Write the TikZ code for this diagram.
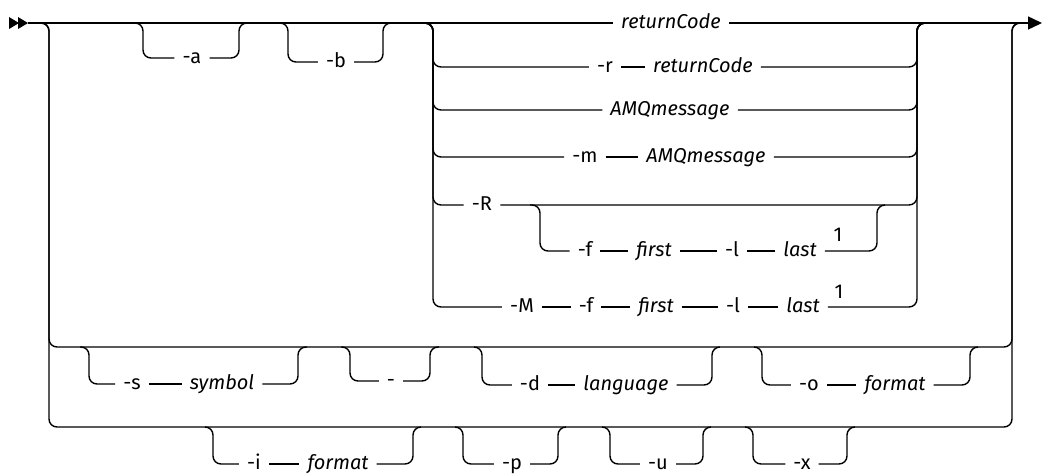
\documentclass[tikz,border=0pt]{standalone}
\usepackage{fontspec}
\setmainfont{Fira Sans}
\usetikzlibrary{arrows.meta}
\tikzset{
  rail/.style={line width=1.4pt, rounded corners=8pt},
  kw/.style={font=\fontsize{20}{23}\selectfont, inner xsep=8pt, inner ysep=0pt,
    text height=15.5pt, text depth=5pt},
  var/.style={kw, font=\fontsize{20}{23}\selectfont\itshape},
  fnote/.style={font=\fontsize{20}{22}\selectfont, inner sep=0pt},
}

\begin{document}
\begin{tikzpicture}[x=1pt, y=-1pt]
  \useasboundingbox (0,0) rectangle (1042,474);

  % start marker and main line
  \fill (9,17) -- (19,23) -- (9,29) -- cycle;
  \fill (18,17) -- (28,23) -- (18,29) -- cycle;
  \coordinate (start) at (28,23);
  \coordinate (stop) at (1042,23);
  \node[var] (rc) at (671,23) {returnCode};
  \draw[rail] (start) -- (rc.west);
  \draw[rail,-{Triangle[length=14pt,width=13pt]}] (rc.east) -- (stop);

  % -a and -b
  \coordinate (aIn) at (135,23);  \coordinate (aOut) at (247,23);
  \coordinate (bIn) at (280,23);  \coordinate (bOut) at (391,23);
  \node[kw] (opta) at (192,58) {-a};
  \node[kw] (optb) at (336,62) {-b};
  \draw[rail] (aIn) -- ++(8,0) |- (opta.west);
  \draw[rail] (aOut) -- ++(-8,0) |- (opta.east);
  \draw[rail] (bIn) -- ++(8,0) |- (optb.west);
  \draw[rail] (bOut) -- ++(-8,0) |- (optb.east);

  % choice block
  \coordinate (chIn) at (425,23);  \coordinate (chOut) at (925,23);
  \node[kw] (optr) at (605,67) {-r};
  \node[var] (rc2) at (703,67) {returnCode};
  \node[var] (amq) at (670,110) {AMQmessage};
  \node[kw] (optm) at (585,157) {-m};
  \node[var] (amq2) at (706,157) {AMQmessage};
  \node[kw] (optR) at (482,205) {-R};
  \node[kw] (optM) at (522,307) {-M};
  \node[kw] (f2) at (586,307) {-f};
  \node[var] (first2) at (656,307) {first};
  \node[kw] (l2) at (733,307) {-l};
  \node[var] (last2) at (803,307) {last};
  \node[fnote] (fnB) at (839,292) {1};
  \foreach \b in {optr,amq,optm,optR,optM}
    \draw[rail] (chIn) -- ++(8,0) |- (\b.west);
  \foreach \b in {rc2,amq,amq2,optR,last2}
    \draw[rail] (chOut) -- ++(-8,0) |- (\b.east);
  \draw[rail] (optr) -- (rc2);
  \draw[rail] (optm) -- (amq2);
  \draw[rail] (optM) -- (f2);
  \draw[rail] (f2) -- (first2);
  \draw[rail] (first2) -- (l2);
  \draw[rail] (l2) -- (last2);

  % -R with -f first -l last
  \coordinate (fIn) at (530,205);  \coordinate (fOut) at (885,205);
  \node[kw] (f1) at (585,251) {-f};
  \node[var] (first1) at (654,251) {first};
  \node[kw] (l1) at (732,251) {-l};
  \node[var] (last1) at (800,251) {last};
  \node[fnote] (fnA) at (838,235) {1};
  \draw[rail] (fIn) -- ++(10,0) |- (f1.west);
  \draw[rail] (fOut) -- ++(-8,0) |- (last1.east);
  \draw[rail] (f1) -- (first1);
  \draw[rail] (first1) -- (l1);
  \draw[rail] (l1) -- (last1);

  % second and third rows
  \coordinate (rowIn) at (41,23);  \coordinate (rowOut) at (1020,23);
  \coordinate (sL) at (49,347);  \coordinate (sR) at (1012,347);
  \coordinate (iL) at (49,427);  \coordinate (iR) at (1012,427);
  \draw[rail] (rowIn) -| (sL) -- (sR) |- (rowOut);
  \draw[rail] (rowIn) -| (iL) -- (iR) |- (rowOut);

  \coordinate (sIn) at (80,347);   \coordinate (sOut) at (307,347);
  \coordinate (hIn) at (341,347);  \coordinate (hOut) at (439,347);
  \coordinate (dIn) at (474,347);  \coordinate (dOut) at (720,347);
  \coordinate (oIn) at (754,347);  \coordinate (oOut) at (978,347);
  \node[kw] (opts) at (132,384) {-s};
  \node[var] (sym) at (222,384) {symbol};
  \node[kw] (opth) at (391,381) {-};
  \node[kw] (optd) at (530,385) {-d};
  \node[var] (lang) at (626,385) {language};
  \node[kw] (opto) at (809,385) {-o};
  \node[var] (fmt) at (895,385) {format};
  \draw[rail] (sIn) -- ++(9,0) |- (opts.west);
  \draw[rail] (opts) -- (sym);
  \draw[rail] (sOut) -- ++(-9,0) |- (sym.east);
  \draw[rail] (hIn) -- ++(9,0) |- (opth.west);
  \draw[rail] (hOut) -- ++(-9,0) |- (opth.east);
  \draw[rail] (dIn) -- ++(8,0) |- (optd.west);
  \draw[rail] (optd) -- (lang);
  \draw[rail] (dOut) -- ++(-8,0) |- (lang.east);
  \draw[rail] (oIn) -- ++(8,0) |- (opto.west);
  \draw[rail] (opto) -- (fmt);
  \draw[rail] (oOut) -- ++(-8,0) |- (fmt.east);

  \coordinate (iIn) at (205,427);  \coordinate (iOut) at (421,427);
  \coordinate (pIn) at (455,427);  \coordinate (pOut) at (566,427);
  \coordinate (uIn) at (602,427);  \coordinate (uOut) at (711,427);
  \coordinate (xIn) at (745,427);  \coordinate (xOut) at (855,427);
  \node[kw] (opti) at (254,464) {-i};
  \node[var] (fmt2) at (338,464) {format};
  \node[kw] (optp) at (512,464) {-p};
  \node[kw] (optu) at (658,464) {-u};
  \node[kw] (optx) at (802,464) {-x};
  \draw[rail] (iIn) -- ++(8,0) |- (opti.west);
  \draw[rail] (opti) -- (fmt2);
  \draw[rail] (iOut) -- ++(-8,0) |- (fmt2.east);
  \draw[rail] (pIn) -- ++(8,0) |- (optp.west);
  \draw[rail] (pOut) -- ++(-8,0) |- (optp.east);
  \draw[rail] (uIn) -- ++(8,0) |- (optu.west);
  \draw[rail] (uOut) -- ++(-8,0) |- (optu.east);
  \draw[rail] (xIn) -- ++(8,0) |- (optx.west);
  \draw[rail] (xOut) -- ++(-8,0) |- (optx.east);
\end{tikzpicture}
\end{document}
